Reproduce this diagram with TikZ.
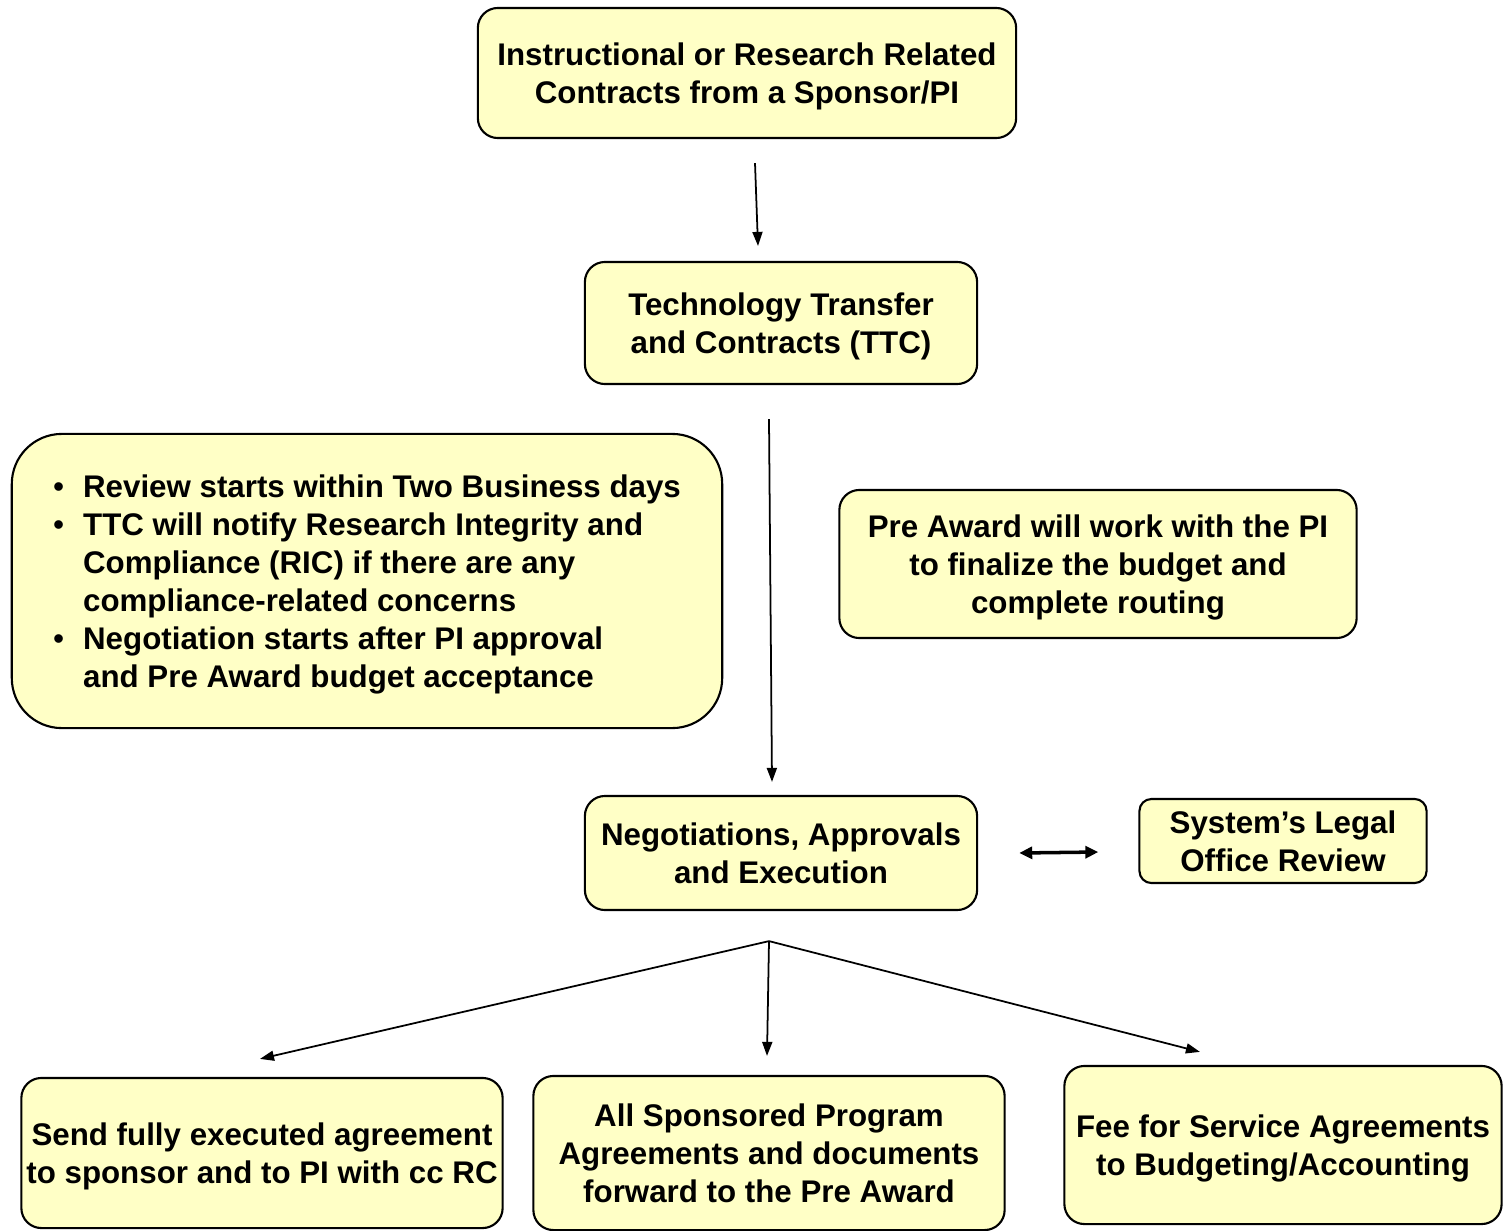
\documentclass[tikz,border=0pt]{standalone}
\usepackage{fontspec}
\setmainfont{Liberation Sans}
\usetikzlibrary{positioning,arrows.meta}
\definecolor{boxfill}{HTML}{FFFFC6}
\newcommand{\bul}{\makebox[0.3cm][l]{\mdseries\small\textbullet}}
\newcommand{\ind}{\hspace*{0.3cm}}

\begin{document}
\begin{tikzpicture}[
    x=0.01cm, y=-0.01cm,
    >={Triangle[length=0.14cm,width=0.1cm]},
    line width=0.5pt,
    every node/.style={draw, line width=0.6pt, fill=boxfill, rectangle, rounded corners=0.2cm,
      align=center, inner sep=0pt, text depth=0pt, font=\fontsize{8.9}{10.8}\selectfont\bfseries}
  ]
    \useasboundingbox (0,0) rectangle (1509,1230);
    % Nodes
    \node[minimum width=5.38cm, minimum height=1.30cm] (sponsor) at (747,73)
      {Instructional or Research Related\\Contracts from a Sponsor/PI};
    \node[minimum width=3.92cm, minimum height=1.22cm] (ttc) at (781,323)
      {Technology Transfer\\and Contracts (TTC)};
    \node[minimum width=7.10cm, minimum height=2.94cm, rounded corners=0.5cm, align=left] (review) at (367,581)
      {\bul Review starts within Two Business days\\
       \bul TTC will notify Research Integrity and\\
       \ind Compliance (RIC) if there are any\\
       \ind compliance-related concerns\\
       \bul Negotiation starts after PI approval\\
       \ind and Pre Award budget acceptance};
    \node[minimum width=5.17cm, minimum height=1.48cm] (preaward) at (1098,564)
      {Pre Award will work with the PI\\to finalize the budget and\\complete routing};
    \node[minimum width=3.92cm, minimum height=1.14cm] (negot) at (781,853)
      {Negotiations, Approvals\\and Execution};
    \node[minimum width=2.87cm, minimum height=0.84cm, rounded corners=0.12cm] (legal) at (1283,841)
      {System's Legal\\Office Review};
    \node[minimum width=4.81cm, minimum height=1.50cm] (sendpi) at (262,1153)
      {Send fully executed agreement\\to sponsor and to PI with cc RC};
    \node[minimum width=4.71cm, minimum height=1.54cm] (forward) at (769,1153)
      {All Sponsored Program\\Agreements and documents\\forward to the Pre Award};
    \node[minimum width=4.37cm, minimum height=1.58cm] (feeserv) at (1283,1145)
      {Fee for Service Agreements\\to Budgeting/Accounting};
    % Arrows
    \draw[->] ([xshift=0.08cm,yshift=-0.24cm]sponsor.south) -- ([xshift=-0.23cm,yshift=0.15cm]ttc.north);
    \draw[->] ([xshift=-0.12cm,yshift=-0.34cm]ttc.south) -- ([xshift=-0.09cm,yshift=0.13cm]negot.north);
    \draw[<->, line width=1pt, >={Triangle[length=0.13cm,width=0.12cm]}]
      ([xshift=0.41cm]negot.east) -- ([xshift=-0.40cm,yshift=-0.11cm]legal.west);
    \coordinate (split) at ([xshift=-0.12cm,yshift=-0.30cm]negot.south);
    \draw[->] (split) -- ([xshift=-0.02cm,yshift=0.18cm]sendpi.north);
    \draw[->] (split) -- ([xshift=-0.02cm,yshift=0.19cm]forward.north);
    \draw[->] (split) -- ([xshift=-0.83cm,yshift=0.13cm]feeserv.north);
  \end{tikzpicture}
\end{document}
